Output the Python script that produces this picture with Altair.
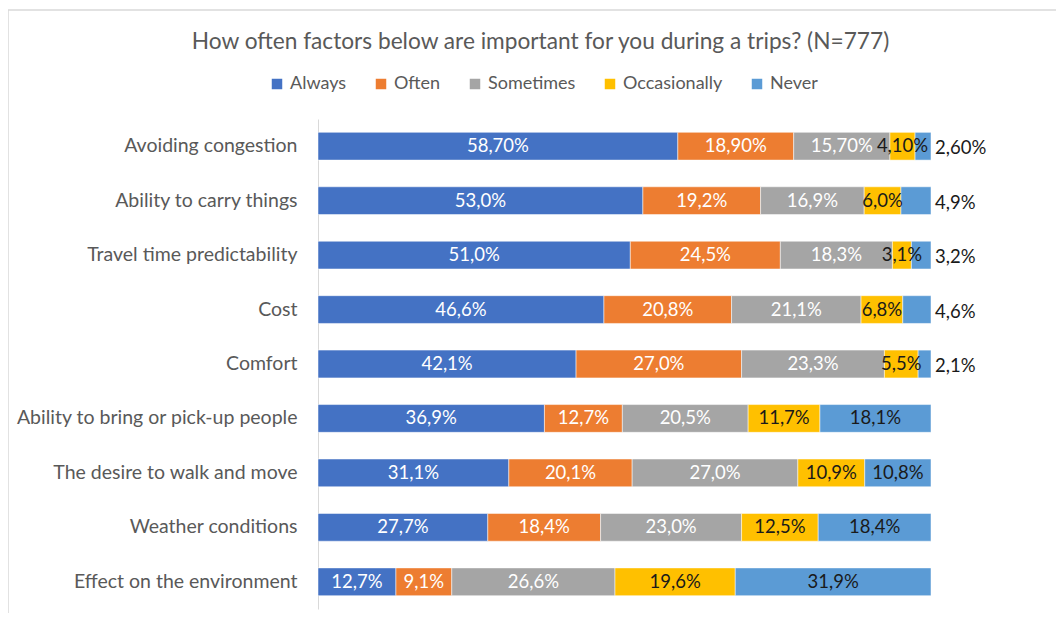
import altair as alt
import pandas as pd

factors = [
    "Avoiding congestion",
    "Ability to carry things",
    "Travel time predictability",
    "Cost",
    "Comfort",
    "Ability to bring or pick-up people",
    "The desire to walk and move",
    "Weather conditions",
    "Effect on the environment",
]
categories = ["Always", "Often", "Sometimes", "Occasionally", "Never"]
always = [58.7, 53.0, 51.0, 46.6, 42.1, 36.9, 31.1, 27.7, 12.7]
often = [18.9, 19.2, 24.5, 20.8, 27.0, 12.7, 20.1, 18.4, 9.1]
sometimes = [15.7, 16.9, 18.3, 21.1, 23.3, 20.5, 27.0, 23.0, 26.6]
occasionally = [4.1, 6.0, 3.1, 6.8, 5.5, 11.7, 10.9, 12.5, 19.6]
never = [2.6, 4.9, 3.2, 4.6, 2.1, 18.1, 10.8, 18.4, 31.9]
decimals = [2, 1, 1, 1, 1, 1, 1, 1, 1]
outside_never = [
    "Avoiding congestion",
    "Ability to carry things",
    "Travel time predictability",
    "Cost",
    "Comfort",
]
colors = ["#4472C4", "#ED7D31", "#A5A5A5", "#FFC000", "#5B9BD5"]

rows = []
series = [always, often, sometimes, occasionally, never]
for i, f in enumerate(factors):
    for j, c in enumerate(categories):
        v = series[j][i]
        lab = f"{v:.{decimals[i]}f}".replace(".", ",") + "%"
        rows.append({
            "factor": f,
            "cat": c,
            "order": j,
            "value": v,
            "label": lab,
            "outside": (c == "Never" and f in outside_never),
        })
df = pd.DataFrame(rows)

FONT = "Lato"
TXT = "#595959"

base = alt.Chart(df).transform_stack(
    stack="value",
    groupby=["factor"],
    sort=[alt.SortField("order", order="ascending")],
    as_=["x0", "x1"],
    offset="normalize",
).transform_calculate(
    mid="(datum.x0 + datum.x1) / 2"
)

yenc = alt.Y(
    "factor:N",
    sort=factors,
    title=None,
    scale=alt.Scale(paddingInner=0.49, paddingOuter=0.245),
    axis=alt.Axis(
        labelFont=FONT,
        labelFontSize=19.5,
        labelColor=TXT,
        labelPadding=21,
        ticks=False,
        domainColor="#d9d9d9",
        domainWidth=1,
        labelLimit=400,
    ),
)
xscale = alt.Scale(domain=[0, 1], nice=False, zero=True)

bars = base.mark_bar(stroke="white", strokeWidth=0.5).encode(
    y=yenc,
    x=alt.X("x0:Q", scale=xscale, axis=None),
    x2="x1:Q",
    color=alt.Color(
        "cat:N",
        sort=categories,
        scale=alt.Scale(domain=categories, range=colors),
        legend=alt.Legend(
            title=None,
            orient="none",
            direction="horizontal",
            legendX=-50,
            legendY=-44,
            symbolType="square",
            symbolSize=110,
            symbolStrokeWidth=0,
            labelFont=FONT,
            labelFontSize=18,
            labelColor=TXT,
            labelOffset=4,
            columnPadding=25,
        ),
    ),
)

inside = base.transform_filter("!datum.outside").mark_text(
    font=FONT, fontSize=18.5, align="center", baseline="middle"
).encode(
    y=alt.Y("factor:N", sort=factors),
    x=alt.X("mid:Q", scale=xscale),
    text="label:N",
    color=alt.condition(
        "datum.order >= 3", alt.value("#1a1a1a"), alt.value("white")
    ),
)

outside = base.transform_filter("datum.outside").mark_text(
    font=FONT, fontSize=18.5, align="left", baseline="middle", dx=4, dy=2
).encode(
    y=alt.Y("factor:N", sort=factors),
    x=alt.X("x1:Q", scale=xscale),
    text="label:N",
    color=alt.value("#1a1a1a"),
)

frame = alt.Chart(pd.DataFrame({"a": [0]})).mark_rect(
    fill=None, stroke="#d9d9d9", strokeWidth=1.5
).encode(
    x=alt.value(-310), x2=alt.value(760), y=alt.value(-109), y2=alt.value(520)
)

chart = alt.layer(frame, bars, inside, outside).properties(
    width=613,
    height=490,
    padding={"left": 310, "top": 111, "right": 125, "bottom": 4},
    autosize=alt.AutoSizeParams(type="none"),
    title=alt.TitleParams(
        "How often factors below are important for you during a trips? (N=777)",
        font=FONT,
        fontSize=22.7,
        fontWeight="normal",
        color=TXT,
        anchor="middle",
        dx=-84,
        offset=-44,
    ),
).configure_view(stroke=None)

chart.save("out.html", embed_options={"renderer": "svg", "actions": False})
